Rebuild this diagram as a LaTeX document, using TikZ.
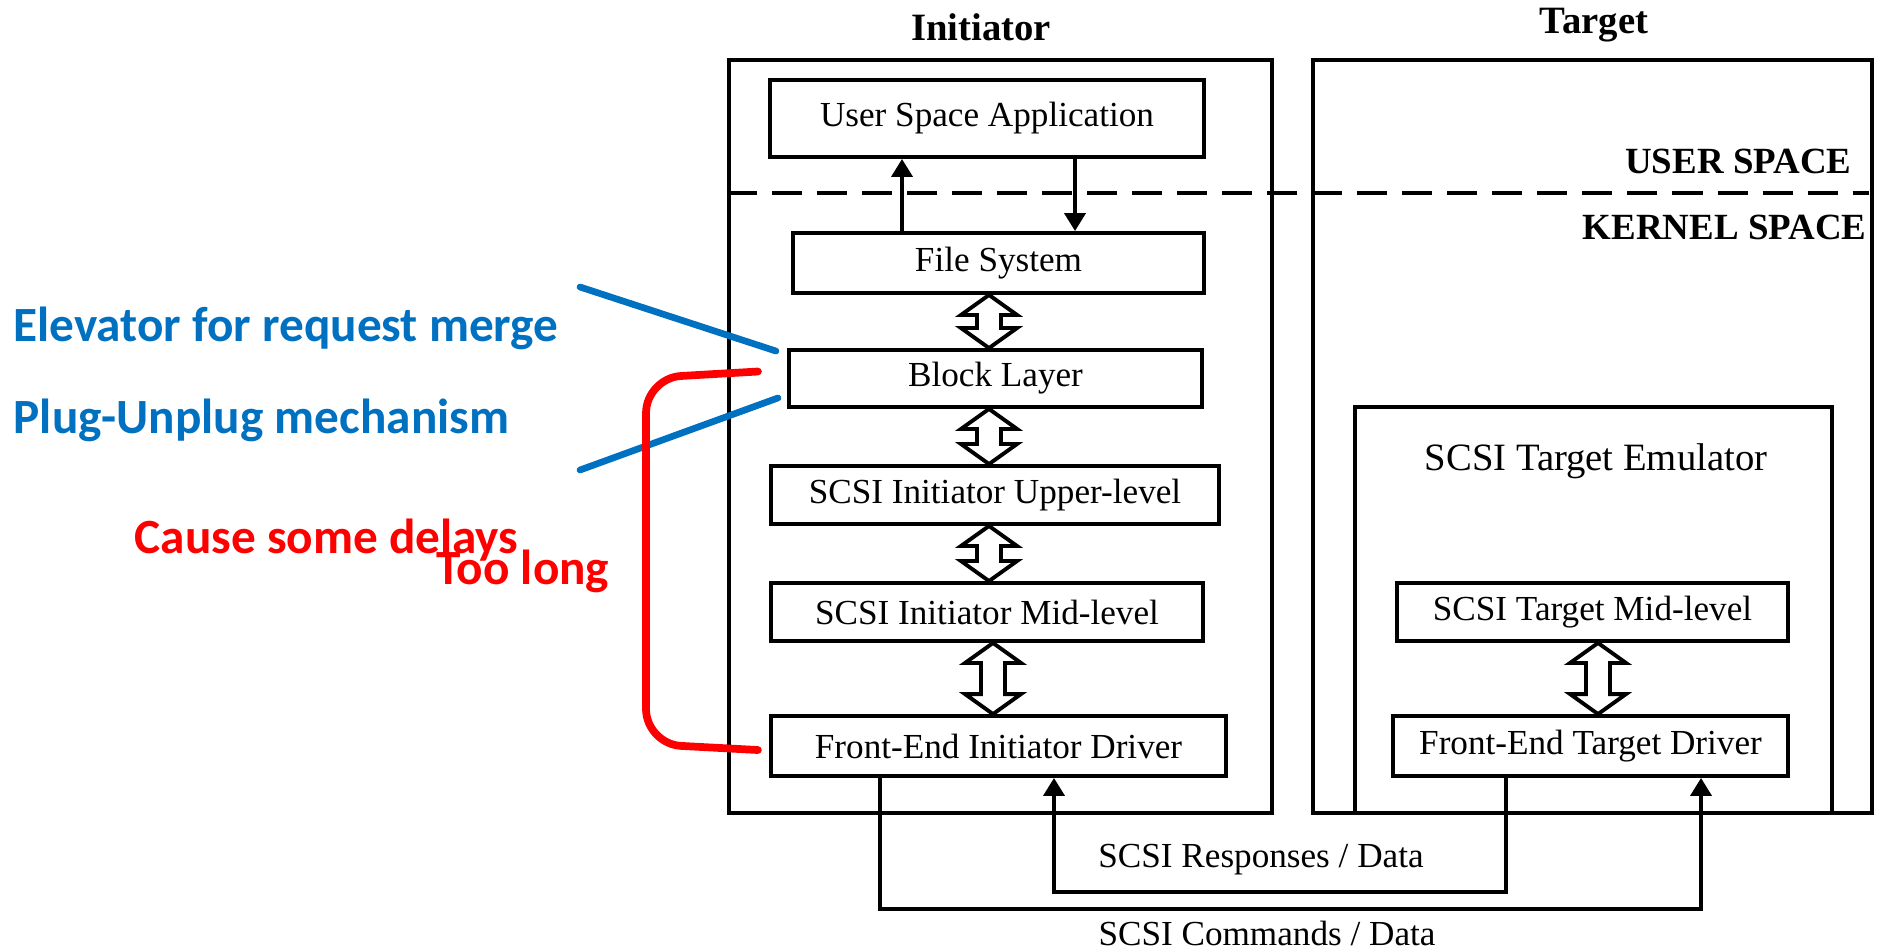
\documentclass[tikz,border=0pt]{standalone}
\usepackage{fontspec}
\setmainfont{Liberation Serif}
\newfontfamily\notefont{Carlito}
\usetikzlibrary{arrows.meta,calc,positioning}

\definecolor{noteblue}{RGB}{0,112,192}
\definecolor{notered}{RGB}{255,0,0}

\tikzset{
    outerbox/.style={draw, line width=1.1pt, inner sep=0pt},
    layerbox/.style={draw, line width=1.1pt, inner sep=0pt, fill=white, font=\fontsize{10}{12}\selectfont},
    flow/.style={line width=1.1pt, -{Triangle[length=0.18cm,width=0.21cm]}},
    hollow/.style={line width=1.1pt, fill=white, line join=miter},
    headline/.style={font=\fontsize{11}{13}\selectfont\bfseries, inner sep=0pt, anchor=base},
    zone/.style={font=\fontsize{10.5}{12}\selectfont\bfseries, inner sep=0pt, anchor=base east},
    note/.style={font=\notefont\fontsize{14}{16}\selectfont\bfseries, inner sep=0pt, anchor=base west},
    callout/.style={line width=1.9pt, line cap=round}
}

% hollow two-headed arrow between two stacked boxes
\newcommand{\biarrow}[3]{%
    \coordinate (biT) at (#1.south -| #3);
    \coordinate (biB) at (#2.north -| #3);
    \draw[hollow] (biT) -- ($(biT)+(-28,20)$) -- ($(biT)+(-12,20)$) -- ($(biB)+(-12,-20)$)
        -- ($(biB)+(-28,-20)$) -- (biB) -- ($(biB)+(28,-20)$) -- ($(biB)+(12,-20)$)
        -- ($(biT)+(12,20)$) -- ($(biT)+(28,20)$) -- cycle;
}

\begin{document}
\begin{tikzpicture}[x=0.01cm, y=-0.01cm]
    \useasboundingbox (0,0) rectangle (1877,951);

    % initiator and target frames
    \node[outerbox, minimum width=5.43cm, minimum height=7.53cm] (init) at (1000.5,436.5) {};
    \node[outerbox, minimum width=5.59cm, minimum height=7.53cm] (tgt) at (1592.5,436.5) {};
    \node[outerbox, minimum width=4.77cm, minimum height=4.06cm] (emu) at (1593.5,610) {};
    \node[headline] (initT) at (981,40) {Initiator};
    \node[headline] (tgtT) at (1594,33) {Target};

    % user / kernel split
    \coordinate (split) at (0,193);
    \draw[line width=1.2pt, dash pattern=on 0.3cm off 0.15cm] (init.west |- split) -- ($(tgt.east |- split)+(-5,0)$);
    \node[zone] (user) at (1852,173) {USER SPACE};
    \node[zone] (kernel) at (1867,239) {KERNEL SPACE};

    % initiator stack
    \node[layerbox, minimum width=4.34cm, minimum height=0.77cm] (app) at (987,118.5) {User Space Application};
    \node[layerbox, minimum width=4.11cm, minimum height=0.60cm] (fs) at (998.5,263) {File System};
    \node[layerbox, minimum width=4.13cm, minimum height=0.57cm] (blk) at (995.5,378.5) {Block Layer};
    \node[layerbox, minimum width=4.48cm, minimum height=0.58cm] (upper) at (995,495) {SCSI Initiator Upper-level};
    \node[layerbox, minimum width=4.32cm, minimum height=0.58cm] (mid) at (987,612) {SCSI Initiator Mid-level};
    \node[layerbox, minimum width=4.55cm, minimum height=0.60cm] (feinit) at (998.5,746) {Front-End Initiator Driver};

    % target stack
    \node[font=\fontsize{11}{13}\selectfont, inner sep=0pt] (emuT) at (1596,461) {SCSI Target Emulator};
    \node[layerbox, minimum width=3.91cm, minimum height=0.58cm] (tmid) at (1592.5,612) {SCSI Target Mid-level};
    \node[layerbox, minimum width=3.95cm, minimum height=0.60cm] (fetgt) at (1590.5,746) {Front-End Target Driver};

    % arrows inside the stacks
    \coordinate (upx) at (902,0);
    \coordinate (downx) at (1075,0);
    \draw[flow] (fs.north -| upx) -- (app.south -| upx);
    \draw[flow] (app.south -| downx) -- (fs.north -| downx);
    \coordinate (colA) at (989,0);
    \coordinate (colB) at (993,0);
    \coordinate (colC) at (1598,0);
    \biarrow{fs}{blk}{colA}
    \biarrow{blk}{upper}{colA}
    \biarrow{upper}{mid}{colA}
    \biarrow{mid}{feinit}{colB}
    \biarrow{tmid}{fetgt}{colC}

    % links between the drivers
    \coordinate (cmdL) at (880,909);
    \coordinate (cmdR) at (1701,909);
    \coordinate (rspR) at (1506,892);
    \coordinate (rspL) at (1054,892);
    \draw[flow] (feinit.south -| cmdL) -- (cmdL) -- (cmdR) -- (fetgt.south -| cmdR);
    \draw[flow] (fetgt.south -| rspR) -- (rspR) -- (rspL) -- (feinit.south -| rspL);
    \node[font=\fontsize{10}{12}\selectfont, inner sep=0pt] (rsp) at (1261,860) {SCSI Responses / Data};
    \node[font=\fontsize{10}{12}\selectfont, inner sep=0pt] (cmd) at (1267,933) {SCSI Commands / Data};

    % notes
    \node[note, text=noteblue] (elev) at (13,341) {Elevator for request merge};
    \node[note, text=noteblue] (plug) at (13,433) {Plug-Unplug mechanism};
    \node[note, text=notered] (delay) at (134,553) {Cause some delays};
    \node[note, text=notered] (long) at (436,584) {Too long};
    \coordinate (elevEnd) at (580,287);
    \coordinate (plugEnd) at (580,470);
    \draw[callout, noteblue] (elevEnd) -- ($(blk.north west)+(-11,3)$);
    \draw[callout, noteblue] (plugEnd) -- ($(blk.south west)+(-9,-11)$);
    \coordinate (brTop) at (646,378);
    \coordinate (brBot) at (646,744);
    \draw[callout, notered, line width=2.2pt, rounded corners=10] ($(blk.west)+(-29,-7)$) -- (brTop) -- (brBot) -- ($(feinit.west)+(-11,4)$);
\end{tikzpicture}
\end{document}
